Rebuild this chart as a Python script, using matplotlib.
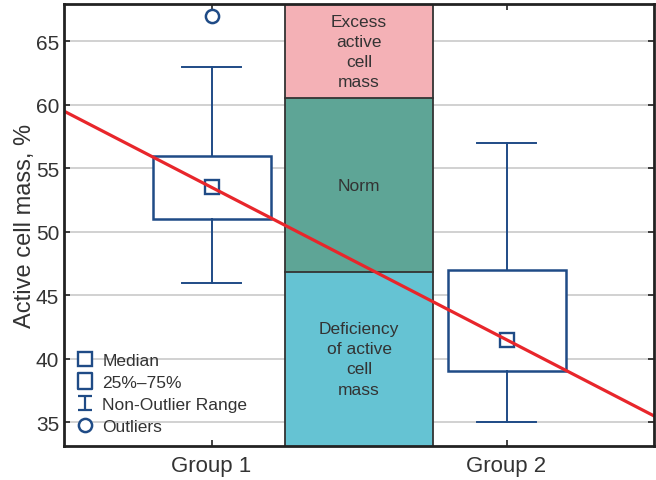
import matplotlib.pyplot as plt
import numpy as np
from matplotlib.lines import Line2D
from matplotlib.path import Path

plt.rcParams['font.family'] = ['Liberation Sans', 'DejaVu Sans']

# Box plot summaries per group
groups = ['Group 1', 'Group 2']
medians = [53.5, 41.5]
q1 = [51.0, 39.0]
q3 = [56.0, 47.0]
whisk_lo = [46.0, 35.0]
whisk_hi = [63.0, 57.0]
outliers = [[67.0], []]

# Reference zones for active cell mass, %
zone_bounds = [33.17, 46.8, 60.5, 67.94]
zone_labels = ['Deficiency\nof active\ncell\nmass', 'Norm', 'Excess\nactive\ncell\nmass']
zone_colors = ['#65c3d3', '#5ea596', '#f4b1b6']

navy = '#1f4b86'
ink = '#333333'

fig = plt.figure(figsize=(6.56, 4.81), dpi=100)
ax = fig.add_axes([0.0976, 0.0717, 0.8994, 0.918])

xpos = np.arange(1, len(groups) + 1)
ax.set_xlim(0.5, 2.5)
ax.set_ylim(zone_bounds[0], zone_bounds[-1])

# grid first, zones sit on top of it
ax.set_yticks([35, 40, 45, 50, 55, 60, 65])
ax.yaxis.grid(True, color='#c9c9c9', lw=1.2, zorder=0)
ax.set_axisbelow(True)

for lo, hi, lab, col in zip(zone_bounds[:-1], zone_bounds[1:], zone_labels, zone_colors):
    ax.fill_between([1.25, 1.75], lo, hi, color=col, lw=0, zorder=1)
    ax.text(1.5, (lo + hi) / 2, lab, ha='center', va='center', fontsize=12.5,
            color=ink, linespacing=1.42, zorder=2)
for b in zone_bounds[1:-1]:
    ax.plot([1.25, 1.75], [b, b], color='#333333', lw=1.3, zorder=2)
for xv in [1.25, 1.75]:
    ax.plot([xv, xv], [zone_bounds[0], zone_bounds[-1]], color='#333333', lw=1.3, zorder=2)

stats = []
for i in range(len(groups)):
    stats.append(dict(med=medians[i], q1=q1[i], q3=q3[i], whislo=whisk_lo[i],
                      whishi=whisk_hi[i], fliers=outliers[i]))

ax.bxp(stats, positions=xpos, widths=0.4, capwidths=0.2, patch_artist=True,
       boxprops=dict(facecolor='white', edgecolor=navy, lw=1.8),
       whiskerprops=dict(color=navy, lw=1.4),
       capprops=dict(color=navy, lw=1.4),
       medianprops=dict(lw=0),
       flierprops=dict(marker='o', mfc='white', mec=navy, ms=9.5, mew=1.8),
       zorder=3)
ax.plot(xpos, medians, ls='none', marker='s', mfc='white', mec=navy, ms=9.5, mew=1.7, zorder=4)

# trend through the group medians, extended over the whole axis
k, b0 = np.polyfit(xpos, medians, 1)
xs = np.array([0.5, 2.5])
ax.plot(xs, k * xs + b0, color='#e8262b', lw=2.3, zorder=5)

# legend
ibeam = Path([(-0.5, 0.5), (0.5, 0.5), (0, 0.5), (0, -0.5), (-0.5, -0.5), (0.5, -0.5)],
             [Path.MOVETO, Path.LINETO, Path.MOVETO, Path.LINETO, Path.MOVETO, Path.LINETO])
tallbox = Path([(-0.43, -0.5), (0.43, -0.5), (0.43, 0.5), (-0.43, 0.5), (-0.43, -0.5)],
               [Path.MOVETO, Path.LINETO, Path.LINETO, Path.LINETO, Path.CLOSEPOLY])
handles = [
    Line2D([], [], ls='none', marker='s', mfc='white', mec=navy, ms=9.5, mew=1.7),
    Line2D([], [], ls='none', marker=tallbox, mfc='white', mec=navy, ms=11, mew=1.7),
    Line2D([], [], ls='none', marker=ibeam, mfc='none', mec=navy, ms=10, mew=1.6),
    Line2D([], [], ls='none', marker='o', mfc='white', mec=navy, ms=9.5, mew=1.8),
]
ax.legend(handles, ['Median', '25%\u201375%', 'Non-Outlier Range', 'Outliers'],
          loc='lower left', bbox_to_anchor=(0.0, -0.002), frameon=False, fontsize=12.5,
          handlelength=1.0, handletextpad=0.5, labelspacing=0.39, borderaxespad=0.3,
          labelcolor=ink)

ax.set_xticks(xpos)
ax.set_xticklabels(groups, fontsize=16)
ax.set_ylabel('Active cell mass, %', fontsize=17, color=ink, labelpad=0)
ax.tick_params(axis='both', direction='in', length=4, width=1.2, colors='#222222',
               labelcolor=ink, top=True, right=True)
ax.tick_params(axis='y', labelsize=15)
ax.tick_params(axis='x', pad=7)
for sp in ax.spines.values():
    sp.set_linewidth(2)
    sp.set_color('#222222')
    sp.set_zorder(6)

fig.savefig('out.png', dpi=100)
